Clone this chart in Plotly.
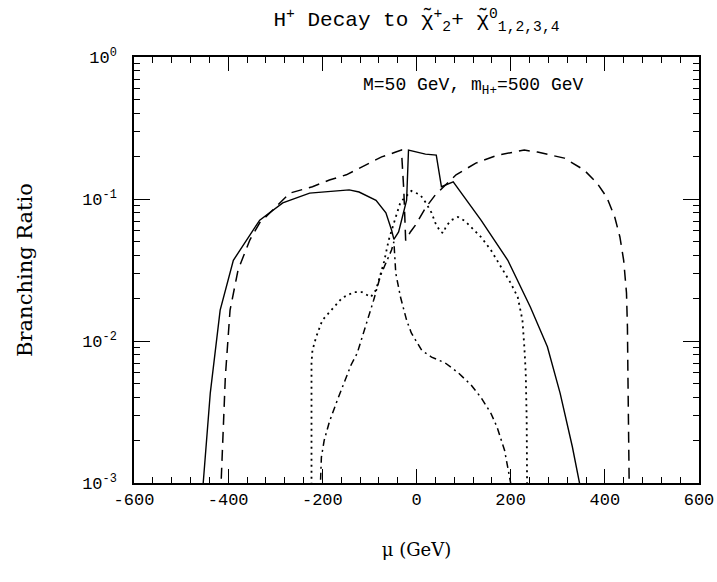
import plotly.graph_objects as go

# ---- data ----
solid_mu = [-460, -453, -438, -417, -389, -333, -284, -227, -143, -122, -86, -65, -53, -48,
            -38, -21, -17, 19, 42, 51, 53, 78, 109, 137, 194, 242, 278, 305, 331, 347, 352]
solid_br = [0.0008, 0.001, 0.0043, 0.0165, 0.037, 0.071, 0.094, 0.110, 0.116, 0.112, 0.098,
            0.080, 0.0605, 0.052, 0.0586, 0.098, 0.221, 0.207, 0.204, 0.130, 0.122, 0.132,
            0.095, 0.071, 0.037, 0.0173, 0.0091, 0.0043, 0.0018, 0.001, 0.0008]

dash_mu = [-418, -415, -406, -396, -379, -354, -333, -291, -269, -221, -185, -149, -107, -74,
           -44, -32, -27, -25, -23, -13, -2, 19, 40, 84, 126, 173, 229, 257, 314, 356, 383,
           404, 421, 432, 440, 446, 448, 449, 451, 452]
dash_br = [0.0008, 0.001, 0.0056, 0.0165, 0.0316, 0.0514, 0.068, 0.094, 0.110, 0.122, 0.136,
           0.148, 0.173, 0.198, 0.214, 0.221, 0.116, 0.0605, 0.051, 0.0586, 0.0656, 0.0865,
           0.107, 0.148, 0.179, 0.204, 0.221, 0.214, 0.194, 0.160, 0.130, 0.103, 0.0747,
           0.054, 0.037, 0.0218, 0.0126, 0.006, 0.001, 0.0008]

dot_mu = [-224, -223, -223, -223, -221, -213, -200, -181, -158, -133, -116, -97, -86, -69,
          -59, -44, -34, -11, 8, 19, 32, 40, 51, 57, 63, 74, 88, 103, 116, 137, 158, 179,
          200, 215, 225, 229, 232, 234, 234, 235]
dot_br = [0.0008, 0.001, 0.0019, 0.007, 0.0086, 0.0107, 0.014, 0.0165, 0.0201, 0.0221,
          0.0221, 0.0204, 0.0229, 0.036, 0.0514, 0.0747, 0.095, 0.114, 0.107, 0.095, 0.080,
          0.0678, 0.0586, 0.0576, 0.0645, 0.071, 0.0747, 0.070, 0.0635, 0.054, 0.0437,
          0.0332, 0.0256, 0.0204, 0.014, 0.0091, 0.006, 0.0028, 0.001, 0.0008]

dashdot_mu = [-205, -204, -202, -196, -185, -168, -154, -139, -126, -112, -101, -91, -76,
              -65, -53, -48, -44, -34, -21, -11, 11, 32, 61, 88, 116, 137, 158, 171, 187,
              200, 202]
dashdot_br = [0.0008, 0.001, 0.00152, 0.0020, 0.0027, 0.00384, 0.00506, 0.00678, 0.0082,
              0.0116, 0.0148, 0.0194, 0.0292, 0.0354, 0.0437, 0.050, 0.030, 0.0204, 0.014,
              0.0114, 0.0086, 0.0077, 0.0070, 0.0060, 0.0049, 0.0040, 0.0031, 0.00248,
              0.0017, 0.001, 0.0008]

x_tickvals = [-600, -400, -200, 0, 200, 400, 600]
x_ticktext = ["-600", "-400", "-200", "0", "200", "400", "600"]
x_minor = [v for v in range(-600, 601, 40) if v % 200 != 0]
y_tickvals = [1e-3, 1e-2, 1e-1, 1]
y_ticktext = ["10<sup>-3</sup>", "10<sup>-2</sup>", "10<sup>-1</sup>", "10<sup>0</sup>"]
y_minor = [m * 10.0 ** e for e in (-3, -2, -1) for m in range(2, 10)]

title_text = "H<sup>+</sup> Decay to χ̃<sup>+</sup><sub>2</sub>+ χ̃<sup>0</sup><sub>1,2,3,4</sub>"
note_text = "M=50 GeV, m<sub>H+</sub>=500 GeV"

mono = "Liberation Mono"
serif = "DejaVu Serif"

fig = go.Figure()
line_specs = [
    (solid_mu, solid_br, "solid", 1.4),
    (dash_mu, dash_br, "11px,7px", 1.5),
    (dot_mu, dot_br, "2px,4px", 1.8),
    (dashdot_mu, dashdot_br, "7px,4px,2px,4px", 1.5),
]
for xs, ys, dash, w in line_specs:
    fig.add_trace(go.Scatter(x=xs, y=ys, mode="lines",
                             line=dict(color="black", width=w, dash=dash),
                             showlegend=False, hoverinfo="skip"))

fig.update_layout(
    width=717, height=582,
    margin=dict(l=134, r=18, t=57, b=99, autoexpand=False),
    paper_bgcolor="white", plot_bgcolor="white",
    title=dict(text=title_text, x=0.5, xref="paper", y=1 - 19 / 582, yref="container",
               xanchor="center", yanchor="middle", automargin=False,
               font=dict(family=mono, size=21, color="black")),
    annotations=[dict(text=note_text, x=-118, y=0.93, xref="x", yref="paper",
                      xanchor="left", yanchor="middle", showarrow=False,
                      font=dict(family=mono, size=18, color="black"))],
)
fig.update_xaxes(
    range=[-600, 600], showgrid=False, zeroline=False, automargin=False,
    showline=True, linecolor="black", linewidth=1.5, mirror="ticks",
    ticks="inside", ticklen=14, tickwidth=1.2, tickcolor="black",
    tickmode="array", tickvals=x_tickvals, ticktext=x_ticktext,
    tickfont=dict(family=mono, size=17, color="black"), ticklabeloverflow="allow",
    minor=dict(tickmode="array", tickvals=x_minor, ticks="inside", ticklen=6,
               tickwidth=1, tickcolor="black", showgrid=False),
    title=dict(text="μ (GeV)", standoff=34, font=dict(family=serif, size=18, color="black")),
)
fig.update_yaxes(
    type="log", range=[-3, 0], showgrid=False, zeroline=False, automargin=False,
    showline=True, linecolor="black", linewidth=1.5, mirror="ticks",
    ticks="inside", ticklen=16, tickwidth=1.2, tickcolor="black",
    tickmode="array", tickvals=y_tickvals, ticktext=y_ticktext,
    tickfont=dict(family=mono, size=17, color="black"), ticklabelstandoff=12,
    ticklabeloverflow="allow",
    minor=dict(tickmode="array", tickvals=y_minor, ticks="inside", ticklen=6,
               tickwidth=1, tickcolor="black", showgrid=False),
    title=dict(text="Branching Ratio", standoff=44, font=dict(family=serif, size=21, color="black")),
)

fig.write_html("out.html")
